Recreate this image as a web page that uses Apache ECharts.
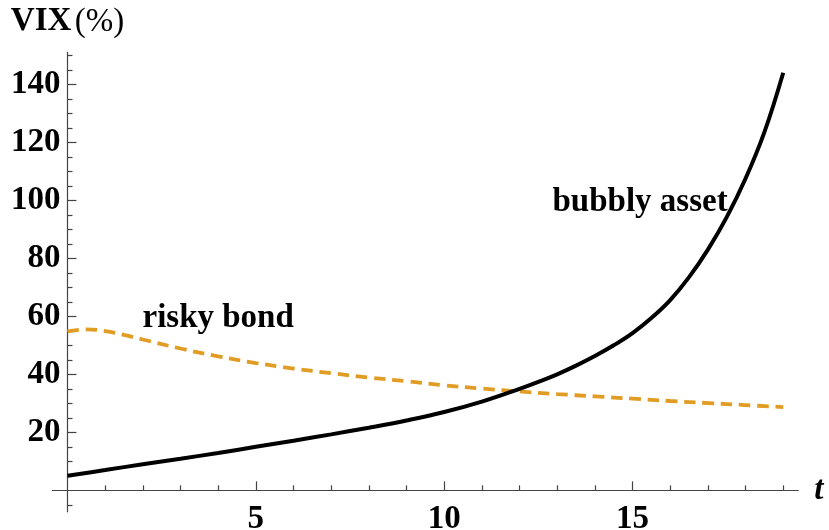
<!DOCTYPE html>
<html>
<head>
<meta charset="utf-8">
<script src="https://cdn.jsdelivr.net/npm/echarts@6/dist/echarts.min.js"></script>
<style>
  html, body { margin: 0; padding: 0; background: #ffffff; }
  #chart { width: 829px; height: 530px; }
</style>
</head>
<body>
<div id="chart"></div>
<script>
// Time grid and VIX of the bubbly asset (%)
const bubblyT = [0, 1, 2, 3, 4, 5, 6, 7, 8, 9, 10, 11, 12, 12.5, 13, 13.5, 14, 14.5, 15, 15.5, 16, 16.5, 17, 17.5, 18, 18.5, 19];
const bubblyVix = [5.0, 7.0, 9.0, 10.9, 12.9, 15.0, 17.1, 19.3, 21.6, 24.1, 27.0, 30.6, 35.0, 37.4, 40.0, 43.0, 46.3, 50.0, 54.2, 59.4, 65.6, 73.5, 83.0, 94.2, 107.5, 123.5, 144];

// Time grid and VIX of the risky bond (%)
const bondT = [0, 0.5, 1, 1.5, 2, 3, 4, 5, 6, 7, 8, 9, 10, 11, 12, 13, 14, 15, 16, 17, 18, 19];
const bondVix = [54.8, 55.5, 54.9, 53.6, 52.0, 48.9, 46.2, 43.9, 42.0, 40.4, 38.9, 37.6, 36.2, 35.1, 34.1, 33.2, 32.4, 31.6, 30.8, 30.1, 29.4, 28.7];

// Axis ticks
const xMajorTicks = [5, 10, 15];
const xMinorTicks = [1, 2, 3, 4, 6, 7, 8, 9, 11, 12, 13, 14, 16, 17, 18, 19];
const yMajorTicks = [20, 40, 60, 80, 100, 120, 140];
const yMinorTicks = [-5, 5, 10, 15, 25, 30, 35, 45, 50, 55, 65, 70, 75, 85, 90, 95, 105, 110, 115, 125, 130, 135, 145, 150];

// Curve annotations: [t, VIX, text]
const curveNotes = {
  bond: [4.0, 59.4, 'risky bond'],
  bubbly: [15.2, 99.4, 'bubbly asset']
};

const X_MIN = -0.4, X_MAX = 19.4, Y_MIN = -7.4, Y_MAX = 151;

const serif = '"Liberation Serif", "DejaVu Serif", serif';
const axisColor = '#444444';
const labelFont = { fontFamily: serif, fontWeight: 'bold', fontSize: 33, color: '#000000' };

const pair = (ts, vs) => ts.map((t, i) => [t, vs[i]]);

function noteLabel(note) {
  return {
    coord: [note[0], note[1]],
    symbol: 'circle',
    symbolSize: 0,
    label: Object.assign({ show: true, position: 'inside', formatter: note[2] }, labelFont)
  };
}

const hiddenLine = { show: true, onZero: true, lineStyle: { opacity: 0 } };

const option = {
  backgroundColor: '#ffffff',
  animation: false,
  grid: {
    left: 52.4, top: 52.4, width: 745.9, height: 459.4,
    outerBoundsMode: 'none', containLabel: false
  },
  xAxis: [
    {
      type: 'value', min: X_MIN, max: X_MAX, position: 'bottom',
      axisLine: { show: true, onZero: true, lineStyle: { color: axisColor, width: 1.2 } },
      axisTick: { show: true, inside: true, length: 9, customValues: xMajorTicks, lineStyle: { color: axisColor, width: 1.2 } },
      axisLabel: Object.assign({ show: true, margin: -9, customValues: xMajorTicks }, labelFont),
      splitLine: { show: false },
      name: 't', nameLocation: 'end', nameGap: 16,
      nameTextStyle: { fontFamily: serif, fontWeight: 'bold', fontStyle: 'italic', fontSize: 33, color: '#000000', verticalAlign: 'middle' }
    },
    {
      type: 'value', min: X_MIN, max: X_MAX, position: 'bottom',
      axisLine: hiddenLine,
      axisTick: { show: true, inside: true, length: 5, customValues: xMinorTicks, lineStyle: { color: axisColor, width: 1.2 } },
      axisLabel: { show: false },
      splitLine: { show: false }
    }
  ],
  yAxis: [
    {
      type: 'value', min: Y_MIN, max: Y_MAX, position: 'left',
      axisLine: { show: true, onZero: true, lineStyle: { color: axisColor, width: 1.2 } },
      axisTick: { show: true, inside: true, length: 9, customValues: yMajorTicks, lineStyle: { color: axisColor, width: 1.2 } },
      axisLabel: Object.assign({ show: true, margin: -8, customValues: yMajorTicks }, labelFont),
      splitLine: { show: false },
      name: '{b|VIX} {r|(%)}', nameLocation: 'end', nameGap: 14,
      nameTextStyle: {
        align: 'center',
        rich: {
          b: { fontFamily: serif, fontWeight: 'bold', fontSize: 33, color: '#000000' },
          r: { fontFamily: serif, fontWeight: 'normal', fontSize: 33, color: '#000000' }
        }
      }
    },
    {
      type: 'value', min: Y_MIN, max: Y_MAX, position: 'left',
      axisLine: hiddenLine,
      axisTick: { show: true, inside: true, length: 5, customValues: yMinorTicks, lineStyle: { color: axisColor, width: 1.2 } },
      axisLabel: { show: false },
      splitLine: { show: false }
    }
  ],
  series: [
    {
      name: 'risky bond', type: 'line', xAxisIndex: 0, yAxisIndex: 0,
      data: pair(bondT, bondVix),
      showSymbol: false, smooth: 0.4,
      lineStyle: { color: '#E19C24', width: 3.8, type: [11.5, 6.8], cap: 'butt' },
      markPoint: { silent: true, data: [noteLabel(curveNotes.bond)] },
      z: 3
    },
    {
      name: 'bubbly asset', type: 'line', xAxisIndex: 0, yAxisIndex: 0,
      data: pair(bubblyT, bubblyVix),
      showSymbol: false, smooth: 0.4,
      lineStyle: { color: '#000000', width: 4 },
      markPoint: { silent: true, data: [noteLabel(curveNotes.bubbly)] },
      z: 4
    }
  ]
};

const chart = echarts.init(document.getElementById('chart'), null, { renderer: 'canvas' });
chart.setOption(option);
</script>
</body>
</html>
